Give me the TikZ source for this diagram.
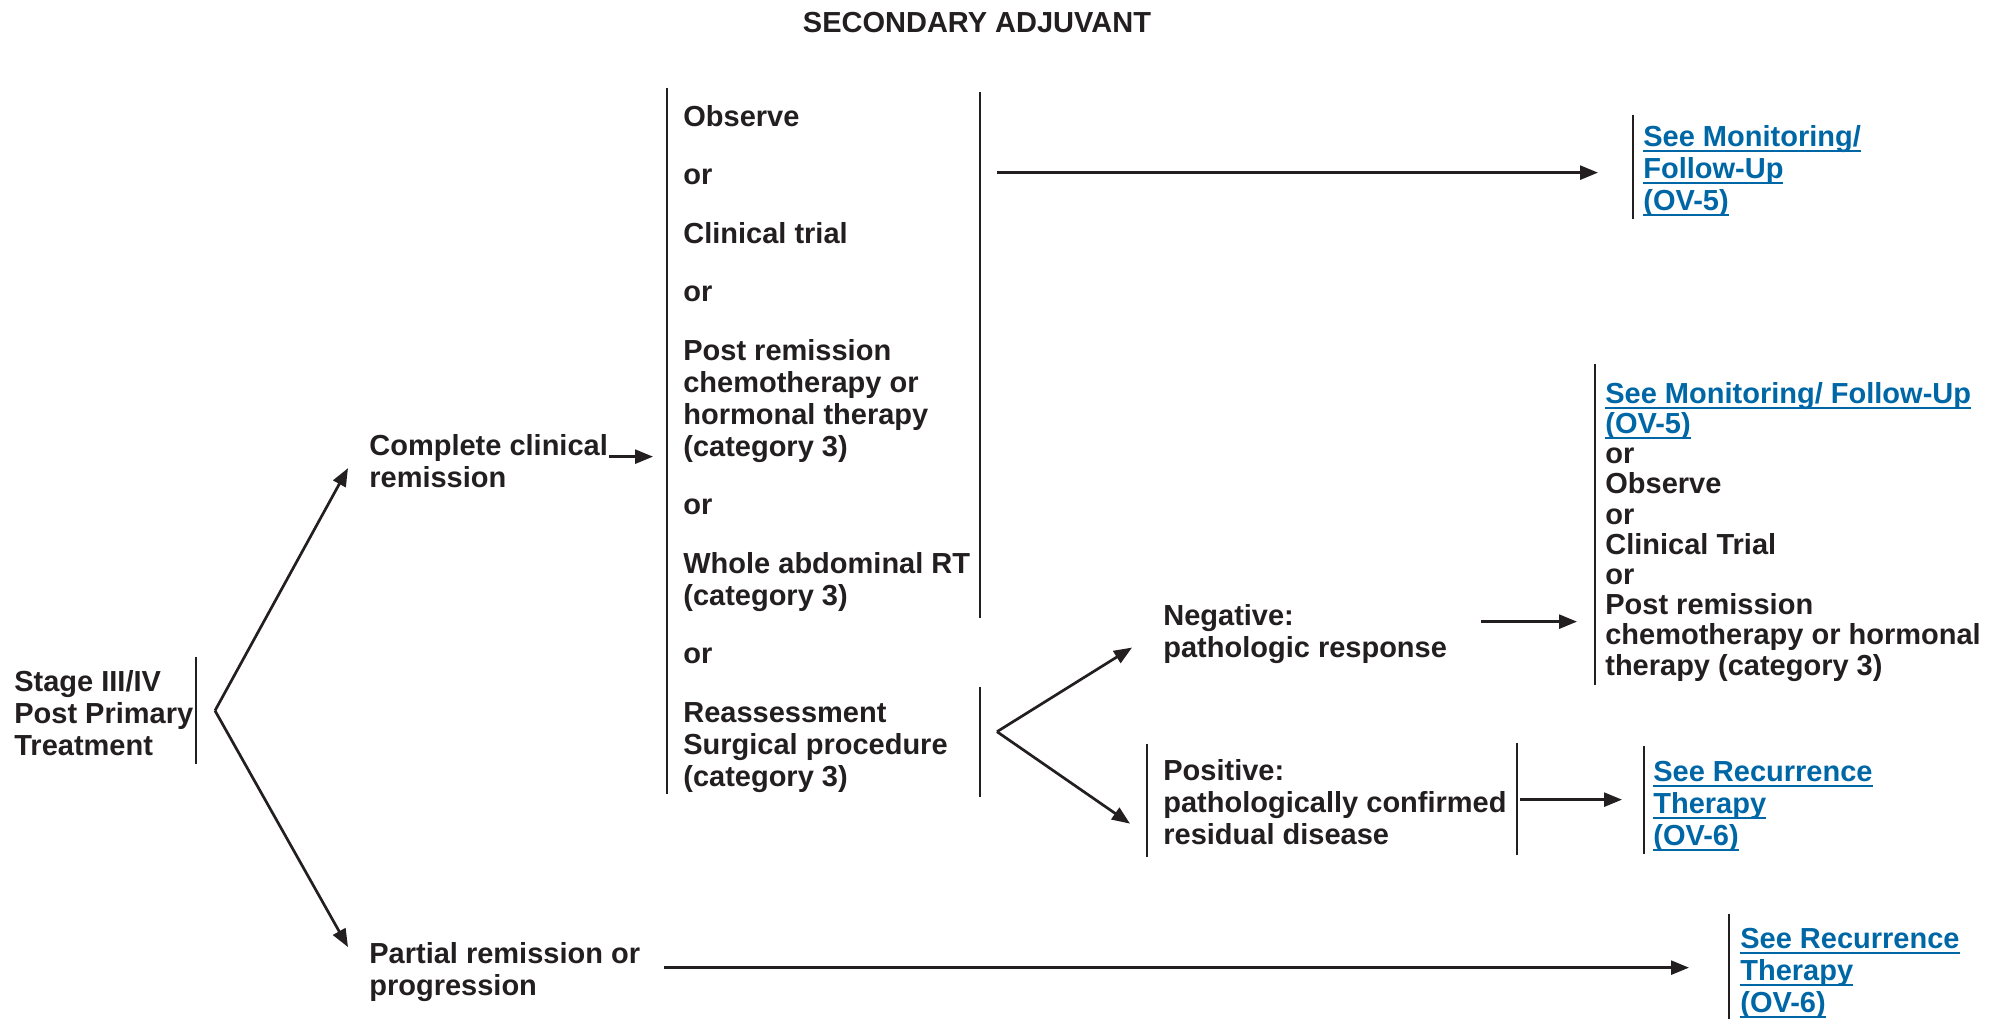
\documentclass[tikz,border=0pt]{standalone}
\usepackage{graphicx}
\usepackage{fontspec}
\setmainfont{Liberation Sans}
\usetikzlibrary{arrows.meta}
\usetikzlibrary{calc}
\definecolor{ink}{RGB}{35,31,32}
\definecolor{linkblue}{RGB}{0,103,166}
\newsavebox{\lnkbox}
\newcommand{\seelink}[1]{\textcolor{linkblue}{\sbox{\lnkbox}{#1}\rlap{\rule[-6pt]{\wd\lnkbox}{2pt}}\usebox{\lnkbox}}}

\begin{document}
\begin{tikzpicture}[
            x = 1pt, y = 1pt, % one unit = one pixel of the page
            > = {Triangle[length=18pt, width=14pt]}, % arrow head style
            line width = 2.7pt,
            every node/.style = {font=\bfseries\fontsize{29}{32}\selectfont, text=ink}
        ]

        \tikzstyle{block}=[
            anchor = base west, % base = baseline of the last line
            align = left,
            inner sep = 0pt
        ]
        \tikzstyle{bar}=[draw = ink]
        \tikzstyle{link}=[->, draw = ink]

        \useasboundingbox (0,0) rectangle (2003,-1018);

        % heading
        \node (head) [anchor=base] at (977,-32) {SECONDARY ADJUVANT};

        % first level
        \node[block] (stage) at (13,-755) {Stage III/IV\\Post Primary\\Treatment};
        \node[block] (ccr) at (368,-487) {Complete clinical\\remission};
        \node[block] (ppr) at (368,-995) {Partial remission or\\progression};

        % secondary adjuvant options
        \node[block] (opts) at (682,-605) {Observe\\[26.5pt]or\\[26.5pt]Clinical trial\\[26.5pt]or\\[26.5pt]Post remission\\chemotherapy or\\hormonal therapy\\(category 3)\\[26.5pt]or\\[26.5pt]Whole abdominal RT\\(category 3)};
        \node[block] (orx) at (682,-663.5) {or};
        \node[block] (reas) at (682,-786) {Reassessment\\Surgical procedure\\(category 3)};

        % surgical findings
        \node[block] (neg) at (1162,-657) {Negative:\\pathologic response};
        \node[block] (pos) at (1162,-844) {Positive:\\pathologically confirmed\\residual disease};

        % next steps
        \node[block] (mon1) at (1642,-210) {\seelink{See Monitoring/}\\\seelink{Follow-Up}\\\seelink{(OV-5)}};
        \node[block, font=\bfseries\fontsize{29}{30.2}\selectfont] (rt) at (1604,-675) {\seelink{See Monitoring/ Follow-Up}\\\seelink{(OV-5)}\\or\\Observe\\or\\Clinical Trial\\or\\Post remission\\chemotherapy or hormonal\\therapy (category 3)};
        \node[block] (rec1) at (1652,-845) {\seelink{See Recurrence}\\\seelink{Therapy}\\\seelink{(OV-6)}};
        \node[block] (rec2) at (1739,-1012) {\seelink{See Recurrence}\\\seelink{Therapy}\\\seelink{(OV-6)}};

        % bars
        \draw[bar] ([shift={(183,12)}]stage.north west) -- ([shift={(183,-7)}]stage.south west);
        \draw[bar] ([shift={(-15,16)}]opts.north west) -- ([shift={(-15,0)}]reas.south west);
        \draw[bar] ([shift={(298,12)}]opts.north west) -- ([shift={(298,-5)}]opts.south west);
        \draw[bar] ([shift={(298,14)}]reas.north west) -- ([shift={(298,-3)}]reas.south west);
        \draw[bar] ([shift={(-15,14)}]pos.north west) -- ([shift={(-15,-11)}]pos.south west);
        \draw[bar] ([shift={(355,14.5)}]pos.north west) -- ([shift={(355,-9)}]pos.south west);
        \draw[bar] ([shift={(-9,9)}]mon1.north west) -- ([shift={(-9,-1.5)}]mon1.south west);
        \draw[bar] ([shift={(-9,17)}]rt.north west) -- ([shift={(-9,-2)}]rt.south west);
        \draw[bar] ([shift={(-8,13)}]rec1.north west) -- ([shift={(-8,-2)}]rec1.south west);
        \draw[bar] ([shift={(-10,12)}]rec2.north west) -- ([shift={(-10,-6)}]rec2.south west);

        % branch points
        \coordinate (fork) at ([shift={(202,2)}]stage.west);
        \coordinate (split) at ([shift={(315,-31)}]reas.north west);
        \coordinate (optsout) at ([shift={(315,-69)}]opts.north west);
        \coordinate (negout) at ([shift={(33,-19)}]neg.north east);
        \coordinate (posout) at ([shift={(358,-42)}]pos.north west);
        \coordinate (ccrout) at ([yshift=-24pt]ccr.north east);
        \coordinate (pprout) at ([shift={(23,-27)}]ppr.north east);

        % arrows
        \draw[link] (fork) -- ([shift={(-20,-7.5)}]ccr.west);
        \draw[link] (fork) -- ([shift={(-20,24.5)}]ppr.west);
        \draw[link, shorten >=29pt] (ccrout) -- (ccrout -| opts.west);
        \draw[link, shorten >=44pt] (optsout) -- (optsout -| mon1.west);
        \draw[link] (split) -- ([shift={(-30,-14)}]neg.west);
        \draw[link] (split) -- ([shift={(-32,-22)}]pos.west);
        \draw[link, shorten >=27pt] (negout) -- (negout -| rt.west);
        \draw[link, shorten >=30pt] (posout) -- (posout -| rec1.west);
        \draw[link, shorten >=50pt] (pprout) -- (pprout -| rec2.west);

\end{tikzpicture}
\end{document}
